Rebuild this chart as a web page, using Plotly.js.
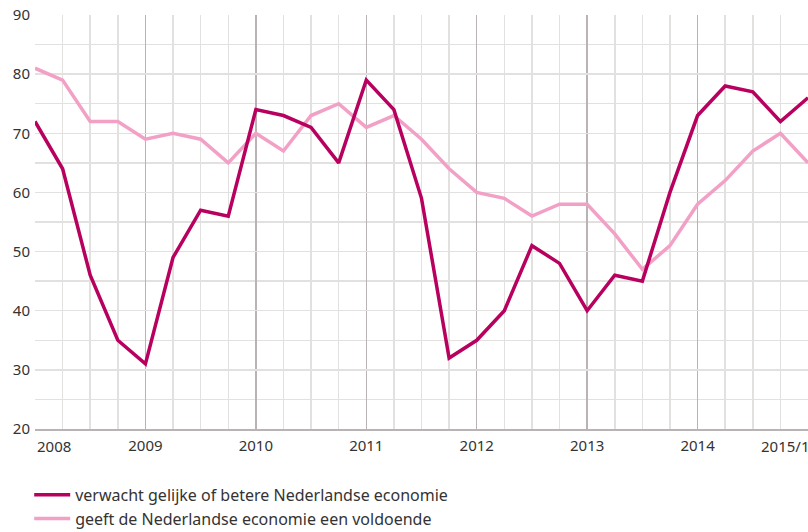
<!DOCTYPE html>
<html>
<head>
<meta charset="utf-8">
<script src="https://cdn.plot.ly/plotly-3.0.1.min.js"></script>
<style>html,body{margin:0;padding:0;background:#fff;}#chart{width:808px;height:532px;}</style>
</head>
<body>
<div id="chart"></div>
<script>
// Quarters 2008/1 .. 2015/1
var years = [2008,2008,2008,2008,2009,2009,2009,2009,2010,2010,2010,2010,2011,2011,2011,2011,2012,2012,2012,2012,2013,2013,2013,2013,2014,2014,2014,2014,2015];
var quarters = [1,2,3,4,1,2,3,4,1,2,3,4,1,2,3,4,1,2,3,4,1,2,3,4,1,2,3,4,1];
var verwacht = [72,64,46,35,31,49,57,56,74,73,71,65,79,74,59,32,35,40,51,48,40,46,45,60,73,78,77,72,76];
var voldoende = [81,79,72,72,69,70,69,65,70,67,73,75,71,73,69,64,60,59,56,58,58,53,47,51,58,62,67,70,65];
var yearTicks = [2008,2009,2010,2011,2012,2013,2014,2015];
var yearLabels = ['','2009','2010','2011','2012','2013','2014',''];
var seriesNames = ['verwacht gelijke of betere Nederlandse economie','geeft de Nederlandse economie een voldoende'];

var x = years.map(function(y,i){ return y + (quarters[i]-1)/4; });
var font = 'Noto Sans, Open Sans, sans-serif';
var textColor = '#333333';

var traces = [
  {x:x, y:voldoende, type:'scatter', mode:'lines', name:seriesNames[1], line:{color:'#f2a0c6', width:3.5}},
  {x:x, y:verwacht, type:'scatter', mode:'lines', name:seriesNames[0], line:{color:'#b8005e', width:3.5}}
];

var layout = {
  width:808, height:532,
  margin:{l:35, r:0, t:15, b:103, autoexpand:false},
  paper_bgcolor:'#fff', plot_bgcolor:'#fff',
  font:{family:font, size:15, color:textColor},
  showlegend:true,
  legend:{orientation:'v', x:-0.0075, xanchor:'left', y:-0.118, yanchor:'top', traceorder:'reversed',
          font:{family:font, size:16, color:textColor}, itemwidth:36, tracegroupgap:0, bgcolor:'rgba(0,0,0,0)'},
  xaxis:{range:[2008,2015], tickvals:yearTicks, ticktext:yearLabels, showgrid:true, gridcolor:'#b9b3b5', gridwidth:1.5,
         minor:{dtick:0.25, tick0:2008, showgrid:true, gridcolor:'#e3e0e0', gridwidth:1.5},
         zeroline:false, showline:true, linecolor:'#b9b3b5', linewidth:2, ticks:'', ticklabelstandoff:2,
         tickfont:{size:15, color:textColor}, fixedrange:true, layer:'below traces'},
  yaxis:{range:[20,90], dtick:10, tick0:20, showgrid:true, gridcolor:'#e3e0e0', gridwidth:1.5,
         minor:{dtick:5, tick0:20, showgrid:true, gridcolor:'#e3e0e0', gridwidth:1.5},
         zeroline:false, showline:false, ticks:'', ticklabelstandoff:4, tickfont:{size:15, color:textColor}, fixedrange:true},
  annotations:[
    {text:'2008', xref:'x', yref:'paper', x:2008, y:0, xanchor:'left', yanchor:'top', yshift:-5, showarrow:false, font:{size:15, color:textColor}},
    {text:'2015/1', xref:'x', yref:'paper', x:2014.56, y:0, xanchor:'left', yanchor:'top', yshift:-5, showarrow:false, font:{size:15, color:textColor}}
  ]
};
Plotly.newPlot('chart', traces, layout, {displayModeBar:false, staticPlot:true});
</script>
</body>
</html>
